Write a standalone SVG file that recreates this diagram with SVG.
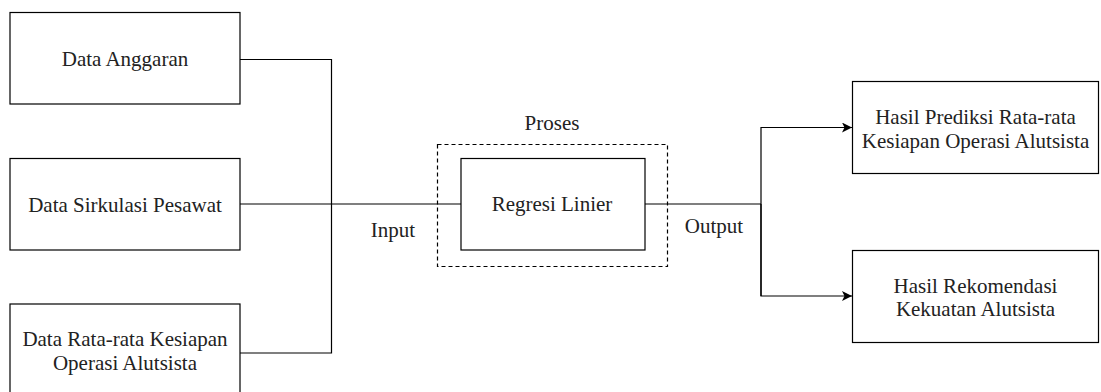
<svg xmlns="http://www.w3.org/2000/svg" width="1101" height="392" viewBox="0 0 1101 392">
  <style>
    .box { fill: #ffffff; stroke: #000000; stroke-width: 1.2; }
    .frame { fill: none; stroke: #000000; stroke-width: 1.2; stroke-dasharray: 4 3; }
    .wire { fill: none; stroke: #000000; stroke-width: 1.2; }
    .label { font-family: 'Liberation Serif', 'Times New Roman', 'DejaVu Serif', serif; font-size: 21px; fill: #222222; text-anchor: middle; }
  </style>
  <defs>
    <marker id="arrow" viewBox="0 0 10 10" refX="10" refY="5" markerWidth="10" markerHeight="10" markerUnits="userSpaceOnUse" orient="auto">
      <path d="M0,0 L10,5 L0,10 L2.5,5 Z" fill="#000000"/>
    </marker>
  </defs>
  <rect width="1101" height="392" fill="#ffffff"/>

  <g id="connectors">
    <polyline class="wire" points="240,59.5 331.5,59.5 331.5,353 240,353"/>
    <line class="wire" x1="240" y1="204" x2="461" y2="204"/>
    <polyline class="wire" points="645,204 761,204"/>
    <polyline class="wire" points="761,296 761,127.5 852,127.5" marker-end="url(#arrow)"/>
    <polyline class="wire" points="761,204 761,296 852,296" marker-end="url(#arrow)"/>
  </g>

  <g id="data-anggaran">
    <rect class="box" x="10" y="12.5" width="230" height="91.5"/>
    <text class="label" font-family="Liberation Serif, serif" x="125" y="66">Data Anggaran</text>
  </g>

  <g id="data-sirkulasi">
    <rect class="box" x="10" y="158.5" width="230" height="91.5"/>
    <text class="label" x="125" y="211.5">Data Sirkulasi Pesawat</text>
  </g>

  <g id="data-kesiapan">
    <rect class="box" x="10" y="304" width="230" height="98"/>
    <text class="label" x="125" y="345.5">Data Rata-rata Kesiapan</text>
    <text class="label" x="125" y="369.5">Operasi Alutsista</text>
  </g>

  <g id="proses">
    <rect class="frame" x="437.5" y="144.5" width="230" height="122"/>
    <text class="label" x="552" y="130">Proses</text>
  </g>

  <g id="regresi-linier">
    <rect class="box" x="461" y="158.5" width="184" height="91.5"/>
    <text class="label" x="552" y="211">Regresi Linier</text>
  </g>

  <g id="input-label">
    <text class="label" x="393" y="237">Input</text>
  </g>

  <g id="output-label">
    <text class="label" x="714" y="233">Output</text>
  </g>

  <g id="hasil-prediksi">
    <rect class="box" x="852.5" y="81.5" width="246" height="92"/>
    <text class="label" x="975.5" y="123.5">Hasil Prediksi Rata-rata</text>
    <text class="label" x="975.5" y="147.5">Kesiapan Operasi Alutsista</text>
  </g>

  <g id="hasil-rekomendasi">
    <rect class="box" x="852.5" y="250.5" width="246" height="92"/>
    <text class="label" x="975.5" y="292.5">Hasil Rekomendasi</text>
    <text class="label" x="975.5" y="316">Kekuatan Alutsista</text>
  </g>
</svg>
